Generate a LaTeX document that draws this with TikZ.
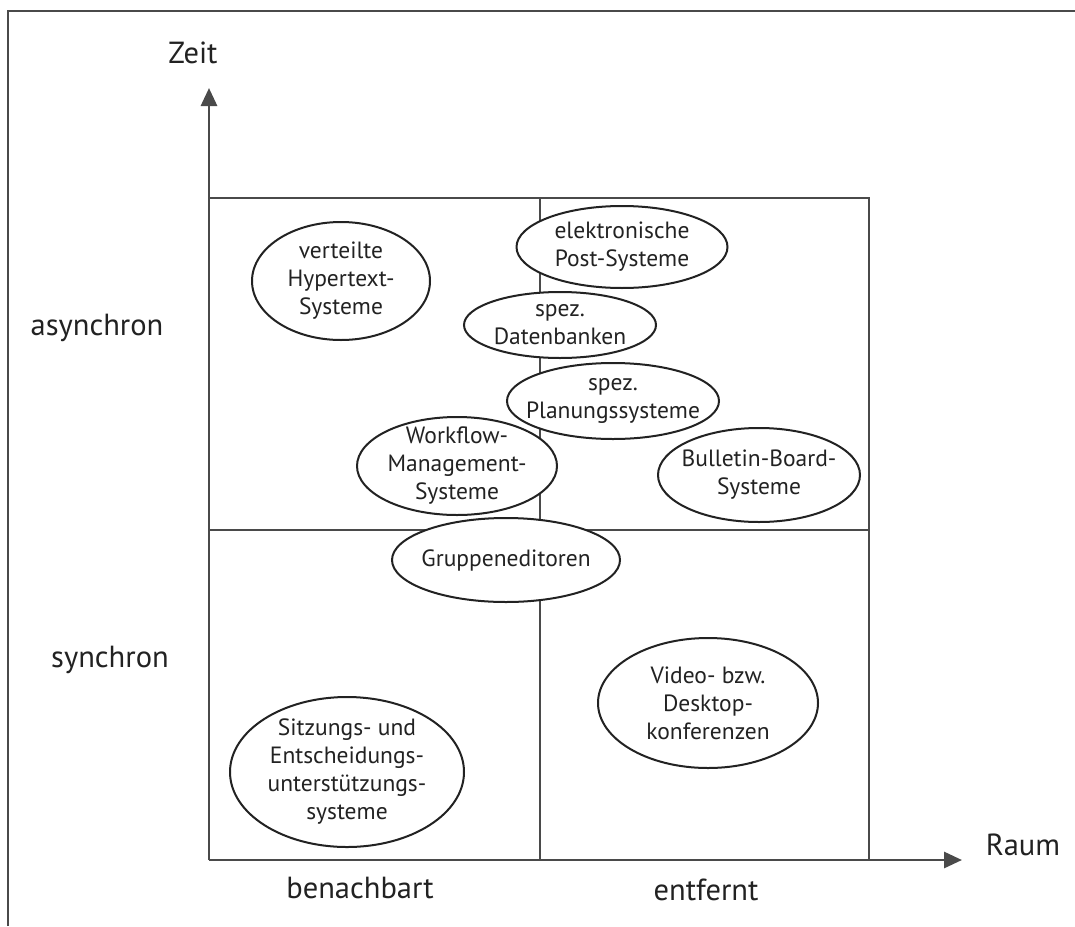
\documentclass[tikz,border=0pt]{standalone}
\usepackage{fontspec}
\setmainfont{PT Sans}
\usetikzlibrary{shapes.geometric,arrows.meta}
\definecolor{linegray}{HTML}{4A4A4A}
\definecolor{inkgray}{HTML}{222222}
\tikzset{
  frameline/.style={draw=linegray, line width=1.8pt},
  gridline/.style={draw=linegray, line width=2.8pt},
  axisline/.style={draw=linegray, line width=2.9pt, -{Triangle[length=18pt,width=16pt]}},
  field/.style={ellipse, draw=inkgray, line width=2pt, fill=white, inner sep=0pt},
  fieldtext/.style={align=center, text=inkgray, inner sep=0pt,
    font=\fontsize{23.5}{28}\selectfont},
  axislabel/.style={text=inkgray, font=\fontsize{30.5}{34}\selectfont, anchor=base, inner sep=0pt}
}
\begin{document}
\begin{tikzpicture}[x=1pt,y=-1pt]
\useasboundingbox (0,0) rectangle (1075,926);
\fill[white] (0,0) rectangle (1075,926);

% outer frame (top and left edges)
\draw[frameline] (8,926) -- (8,11) -- (1075,11);

% grid of the four quadrants
\coordinate (o) at (209,860);
\coordinate (tl) at (209,198);
\coordinate (tr) at (869,198);
\coordinate (br) at (869,860);
\coordinate (tm) at (540,198);
\coordinate (bm) at (540,860);
\coordinate (ml) at (209,530);
\coordinate (mr) at (869,530);
\coordinate (ytip) at (209,88);
\coordinate (xtip) at (962,860);

\draw[gridline] (tl) -- (tr) -- (br);
\draw[gridline] (tm) -- (bm);
\draw[gridline] (ml) -- (mr);

% axes
\draw[axisline] (o) -- (ytip);
\draw[axisline] (o) -- (xtip);

% axis labels
\node[axislabel] (zeit) at (193,63) {Zeit};
\node[axislabel] (raum) at (1023,855) {Raum};
\node[axislabel] (async) at (97,335) {asynchron};
\node[axislabel] (sync) at (110,667) {synchron};
\node[axislabel] (benach) at (360,898) {benachbart};
\node[axislabel] (entf) at (706,900) {entfernt};

% application classes: fixed-size ellipse, text centred on it
\node[field, minimum width=178pt, minimum height=118pt] (hyper) at (341,281) {};
\node[fieldtext] (hyper-t) at (hyper.center) {verteilte\\Hypertext-\\Systeme};

\node[field, minimum width=211pt, minimum height=82pt] (post) at (622,247) {};
\node[fieldtext] (post-t) at (post.center) {elektronische\\Post-Systeme};

\node[field, minimum width=192pt, minimum height=66pt] (db) at (560,325) {};
\node[fieldtext] (db-t) at (db.center) {spez.\\Datenbanken};

\node[field, minimum width=212pt, minimum height=76pt] (plan) at (613,401) {};
\node[fieldtext] (plan-t) at (plan.center) {spez.\\Planungssysteme};

\node[field, minimum width=200pt, minimum height=98pt] (wf) at (457,466) {};
\node[fieldtext] (wf-t) at (wf.center) {Workflow-\\Management-\\Systeme};

\node[field, minimum width=202pt, minimum height=94pt] (bbs) at (759,475) {};
\node[fieldtext] (bbs-t) at (bbs.center) {Bulletin-Board-\\Systeme};

\node[field, minimum width=228pt, minimum height=84pt] (group) at (506,560) {};
\node[fieldtext] (group-t) at (group.center) {Gruppeneditoren};

\node[field, minimum width=234pt, minimum height=150pt] (meet) at (347,772) {};
\node[fieldtext] (meet-t) at (meet.center) {Sitzungs- und\\Entscheidungs-\\unterstützungs-\\systeme};

\node[field, minimum width=220pt, minimum height=130pt] (video) at (708,703) {};
\node[fieldtext] (video-t) at (video.center) {Video- bzw.\\Desktop-\\konferenzen};
\end{tikzpicture}
\end{document}
